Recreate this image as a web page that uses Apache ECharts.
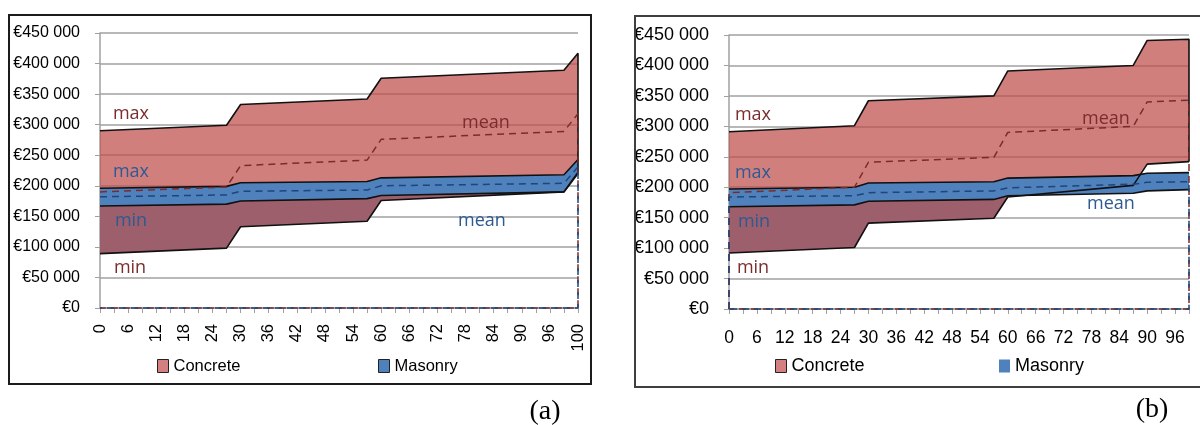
<!DOCTYPE html>
<html>
<head>
<meta charset="utf-8">
<script src="https://cdn.jsdelivr.net/npm/echarts@6/dist/echarts.min.js"></script>
<style>
  html, body { margin: 0; padding: 0; background: #fff; }
  #chart { width: 1200px; height: 425px; }
</style>
</head>
<body>
<div id="chart"></div>
<script>
// Cost ranges (thousands of euros) over the service life (years), two scenarios.

// ---- panel (a) ----
const yearsA = ['0','3','6','9','12','15','18','21','24','27','30','33','36','39','42','45','48','51',
                '54','57','60','63','66','69','72','75','78','81','84','87','90','93','96','99','100'];
const breaksA       = ['0', '27', '30', '57', '60', '99', '100'];
const concreteMaxA  = [290, 299, 333, 342, 376, 389, 417];
const concreteMeanA = [190, 198, 233, 242, 276, 289, 318];
const concreteMinA  = [ 89,  98, 133, 142, 176, 190, 222];
const masonryMaxA   = [196, 199, 205, 207, 213, 218, 243];
const masonryMeanA  = [182, 185, 191, 193, 200, 204, 231];
const masonryMinA   = [167, 170, 175, 179, 184, 190, 220];

// ---- panel (b) ----
const yearsB = ['0','3','6','9','12','15','18','21','24','27','30','33','36','39','42','45','48','51',
                '54','57','60','63','66','69','72','75','78','81','84','87','90','93','96','99'];
const breaksB       = ['0', '27', '30', '57', '60', '87', '90', '99'];
const concreteMaxB  = [291, 301, 342, 350, 391, 400, 441, 443];
const concreteMeanB = [191, 200, 241, 249, 290, 300, 340, 343];
const concreteMinB  = [ 92, 101, 141, 149, 184, 203, 238, 242];
const masonryMaxB   = [197, 200, 207, 209, 215, 219, 223, 224];
const masonryMeanB  = [184, 186, 191, 194, 199, 205, 208, 209];
const masonryMinB   = [168, 171, 177, 180, 186, 190, 194, 196];

const costTickStep = 50;   // k€
const costMax = 450;       // k€

const PINK = 'rgba(192,80,77,0.73)';
const PINK_SOLID = '#D48080';
const DARK = '#9D5F6B';
const BLUE = '#4F81BD';
const C_MEAN = '#7a2c2c';
const M_MEAN = '#1f4579';
const OUTLINE = '#111';
const GRIDC = '#a0a0a0';
const SANS = '"Liberation Sans", Arial, sans-serif';
const NOTE = '"Open Sans", "Noto Sans", sans-serif';

const pts = (xs, ys) => xs.map((x, i) => [x, ys[i]]);
const gap = (xs, hi, lo) => xs.map((x, i) => [x, Math.max(0, hi[i] - lo[i])]);
// mean outline closed down to the axis (optionally also on the left edge)
const closed = (xs, ys, leftEdge) =>
  (leftEdge ? [[xs[0], 0]] : []).concat(pts(xs, ys), [[xs[xs.length - 1], 0], [xs[0], 0]]);

function panelSeries(k, xs, cMax, cMean, cMin, mMax, mMean, mMin, leftEdge) {
  const base = { type: 'line', xAxisIndex: k, yAxisIndex: k, symbol: 'none', silent: true,
                 animation: false, showSymbol: false };
  const none = { opacity: 0 };
  const last = xs.length - 1;
  return [
    // concrete band
    { ...base, name: 'cLow' + k, stack: 'c' + k, data: pts(xs, cMin), lineStyle: none },
    { ...base, name: 'Concrete', stack: 'c' + k, data: gap(xs, cMax, cMin), lineStyle: none,
      areaStyle: { color: PINK, opacity: 1 }, itemStyle: { color: PINK_SOLID } },
    { ...base, name: 'cMaxEdge' + k, data: pts(xs, cMax).concat([[xs[last], cMin[last]]]), clip: false,
      lineStyle: { color: OUTLINE, width: 1.6 } },
    { ...base, name: 'cMinEdge' + k, data: pts(xs, cMin), lineStyle: { color: OUTLINE, width: 1.6 } },
    // concrete range lying below the masonry band
    { ...base, name: 'dLow' + k, stack: 'd' + k, data: pts(xs, cMin), lineStyle: none },
    { ...base, name: 'dBand' + k, stack: 'd' + k, data: gap(xs, mMin, cMin), lineStyle: none,
      areaStyle: { color: DARK, opacity: 1 } },
    // masonry band
    { ...base, name: 'mLow' + k, stack: 'm' + k, data: pts(xs, mMin), lineStyle: none },
    { ...base, name: 'Masonry', stack: 'm' + k, data: gap(xs, mMax, mMin), lineStyle: none,
      areaStyle: { color: BLUE, opacity: 1 }, itemStyle: { color: BLUE } },
    { ...base, name: 'mMaxEdge' + k, data: pts(xs, mMax), lineStyle: { color: OUTLINE, width: 1.6 } },
    { ...base, name: 'mMinEdge' + k, data: pts(xs, mMin), lineStyle: { color: OUTLINE, width: 1.6 } },
    // mean curves
    { ...base, name: 'cMean' + k, data: closed(xs, cMean, leftEdge), clip: false,
      lineStyle: { color: C_MEAN, width: 1.5, type: [7, 5] } },
    { ...base, name: 'mMean' + k, data: closed(xs, mMean, leftEdge), clip: false,
      lineStyle: { color: M_MEAN, width: 1.5, type: [7, 5] } }
  ];
}

const euro = v => (v === 0 ? '€0' : '€' + v + ' 000');

function xAxisFor(k, cats, rotated) {
  return {
    gridIndex: k, type: 'category', data: cats, boundaryGap: false,
    axisLine: { lineStyle: { color: GRIDC, width: 1.5 } },
    axisTick: { interval: 0, length: 5, lineStyle: { color: GRIDC, width: 1 } },
    axisLabel: rotated
      ? { interval: 1, rotate: 90, margin: 16, color: '#000', fontFamily: SANS, fontSize: 16.5 }
      : { interval: 1, margin: 20, color: '#000', fontFamily: SANS, fontSize: 17.5 },
    splitLine: { show: false }
  };
}
function yAxisFor(k, size) {
  return {
    gridIndex: k, type: 'value', min: 0, max: costMax, interval: costTickStep,
    axisLine: { show: true, lineStyle: { color: GRIDC, width: 1.5 } },
    axisTick: { show: true, length: 5, lineStyle: { color: GRIDC, width: 1 } },
    axisLabel: { formatter: euro, margin: 20, color: '#000', fontFamily: SANS, fontSize: size },
    splitLine: { lineStyle: { color: GRIDC, width: 1.5 } }
  };
}

function legendItem(name, left, top, style, size) {
  return {
    left: left, top: top, padding: 0, itemWidth: 11, itemHeight: 13, itemGap: 0,
    selectedMode: false,
    data: [{ name: name, icon: 'rect', itemStyle: style }],
    textStyle: { fontFamily: SANS, fontSize: size, color: '#000', lineHeight: 20 }
  };
}

function note(text, x, y, color) {
  return { type: 'text', z: 100, style: { text: text, x: x, y: y, align: 'center', verticalAlign: 'middle',
           fill: color, font: '18px ' + NOTE } };
}

const RED_T = '#7b2d2d';
const BLUE_T = '#2d5a94';

const option = {
  animation: false,
  grid: [
    { left: 100, top: 33, width: 478, height: 275 },
    { left: 729, top: 35, width: 460, height: 274 }
  ],
  xAxis: [xAxisFor(0, yearsA, true), xAxisFor(1, yearsB, false)],
  yAxis: [yAxisFor(0, 16), yAxisFor(1, 18)],
  legend: [
    legendItem('Concrete', 157, 356, { color: PINK_SOLID, borderColor: '#222', borderWidth: 1 }, 16.5),
    legendItem('Masonry', 378, 356, { color: BLUE, borderColor: '#222', borderWidth: 1 }, 16.5),
    legendItem('Concrete', 775, 356, { color: PINK_SOLID, borderColor: '#222', borderWidth: 1 }, 18),
    legendItem('Masonry', 999, 356, { color: BLUE, borderWidth: 0 }, 18)
  ],
  series: [].concat(
    panelSeries(0, breaksA, concreteMaxA, concreteMeanA, concreteMinA, masonryMaxA, masonryMeanA, masonryMinA, false),
    panelSeries(1, breaksB, concreteMaxB, concreteMeanB, concreteMinB, masonryMaxB, masonryMeanB, masonryMinB, true)
  ),
  graphic: [
    { type: 'rect', z: 100, shape: { x: 9, y: 15, width: 582, height: 369 },
      style: { fill: 'none', stroke: '#1b1b1b', lineWidth: 2 } },
    { type: 'rect', z: 100, shape: { x: 635, y: 16, width: 600, height: 371 },
      style: { fill: 'none', stroke: '#3f3f3f', lineWidth: 2 } },
    note('max', 131, 114, RED_T),
    note('max', 131, 172, BLUE_T),
    note('min', 131, 221, BLUE_T),
    note('min', 130, 268, RED_T),
    note('mean', 486, 123, RED_T),
    note('mean', 482, 221, BLUE_T),
    note('max', 753, 115, RED_T),
    note('max', 753, 173, BLUE_T),
    note('min', 754, 222, BLUE_T),
    note('min', 753, 268, RED_T),
    note('mean', 1106, 119, RED_T),
    note('mean', 1111, 204, BLUE_T),
    { type: 'text', z: 100, style: { text: '(a)', x: 545, y: 412, align: 'center', verticalAlign: 'middle',
      fill: '#000', font: '28px "Liberation Serif", "DejaVu Serif", serif' } },
    { type: 'text', z: 100, style: { text: '(b)', x: 1152, y: 410, align: 'center', verticalAlign: 'middle',
      fill: '#000', font: '28px "Liberation Serif", "DejaVu Serif", serif' } }
  ]
};

const chart = echarts.init(document.getElementById('chart'), null, { renderer: 'canvas' });
chart.setOption(option);
</script>
</body>
</html>
